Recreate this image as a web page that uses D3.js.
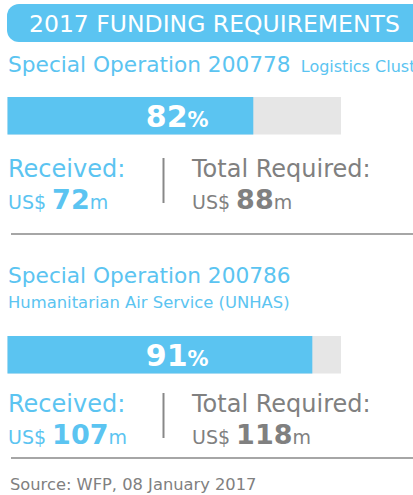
<!DOCTYPE html>
<html>
<head>
<meta charset="utf-8">
<script src="https://cdn.jsdelivr.net/npm/d3@7"></script>
<style>
  body { margin: 0; background: #fff; }
  svg text { font-family: "DejaVu Sans", Verdana, sans-serif; }
</style>
</head>
<body>
<svg id="chart" width="413" height="495"></svg>
<script>
const BLUE = "#5bc4f1";
const GREY = "#808080";

// data
const operations = ["Special Operation 200778", "Special Operation 200786"];
const subtitles = ["Logistics Cluster", "Humanitarian Air Service (UNHAS)"];
const received = [72, 107];
const required = [88, 118];
const pctLabels = ["82", "91"];
const barShare = [0.737, 0.914]; // blue part of the bar, as drawn

const header = "2017 FUNDING REQUIREMENTS";
const source = "Source: WFP, 08 January 2017";

// where each block sits
const blocks = [
  {title: 72, sub: 72, subInline: true, bar: 97, label: 177, value: 209, rule: 234},
  {title: 283, sub: 308, subInline: false, bar: 336, label: 412, value: 444, rule: 458}
];

const BAR_H = 37.5;
const x = d3.scaleLinear().domain([0, 1]).range([7.5, 341]);

const svg = d3.select("svg#chart");

// header band
svg.append("rect")
  .attr("x", 7).attr("y", 4)
  .attr("width", 430).attr("height", 38)
  .attr("rx", 12)
  .attr("fill", BLUE);
svg.append("text")
  .attr("x", 29).attr("y", 32)
  .attr("font-size", 23.5)
  .attr("fill", "#fff")
  .text(header);

const data = operations.map((op, i) => ({
  op, sub: subtitles[i], rec: received[i], req: required[i],
  pct: pctLabels[i], share: barShare[i], pos: blocks[i]
}));

const g = svg.selectAll(".op")
  .data(data)
  .join("g")
  .attr("class", "op");

// titles
const title = g.append("text")
  .attr("x", 8)
  .attr("y", d => d.pos.title)
  .attr("fill", BLUE)
  .attr("font-size", 21.7);
title.append("tspan").text(d => d.op);
title.filter(d => d.pos.subInline)
  .append("tspan")
  .attr("dx", 5)
  .attr("font-size", 16)
  .text(d => " " + d.sub);

g.filter(d => !d.pos.subInline)
  .append("text")
  .attr("x", 8)
  .attr("y", d => d.pos.sub)
  .attr("fill", BLUE)
  .attr("font-size", 16.4)
  .text(d => d.sub);

// bars
g.append("rect")
  .attr("x", x(0))
  .attr("y", d => d.pos.bar)
  .attr("width", x(1) - x(0))
  .attr("height", BAR_H)
  .attr("fill", "#e6e6e6");
g.append("rect")
  .attr("x", x(0))
  .attr("y", d => d.pos.bar)
  .attr("width", d => x(d.share) - x(0))
  .attr("height", BAR_H)
  .attr("fill", BLUE);

const pct = g.append("text")
  .attr("x", (x(0) + x(1)) / 2 + 3)
  .attr("y", d => d.pos.bar + 30)
  .attr("text-anchor", "middle")
  .attr("fill", "#fff")
  .attr("font-weight", "bold");
pct.append("tspan").attr("font-size", 30).text(d => d.pct);
pct.append("tspan").attr("font-size", 21).text("%");

// received / required
function amount(sel, xPos, color, key) {
  sel.append("text")
    .attr("x", xPos)
    .attr("y", d => d.pos.label)
    .attr("fill", color)
    .attr("font-size", 24)
    .text(key === "rec" ? "Received:" : "Total Required:");
  const t = sel.append("text")
    .attr("x", xPos)
    .attr("y", d => d.pos.value)
    .attr("fill", color);
  t.append("tspan").attr("font-size", 19).text("US$ ");
  t.append("tspan").attr("font-size", 27).attr("font-weight", "bold").text(d => d[key]);
  t.append("tspan").attr("font-size", 19).text("m");
}
amount(g, 8, BLUE, "rec");
amount(g, 192, GREY, "req");

g.append("line")
  .attr("x1", 163.5).attr("x2", 163.5)
  .attr("y1", d => d.pos.label - 19)
  .attr("y2", d => d.pos.label + 26)
  .attr("stroke", "#888")
  .attr("stroke-width", 2);

g.append("line")
  .attr("x1", 11).attr("x2", 413)
  .attr("y1", d => d.pos.rule).attr("y2", d => d.pos.rule)
  .attr("stroke", "#888")
  .attr("stroke-width", 1.5);

svg.append("text")
  .attr("x", 10).attr("y", 490)
  .attr("fill", GREY)
  .attr("font-size", 16.3)
  .text(source);
</script>
</body>
</html>
